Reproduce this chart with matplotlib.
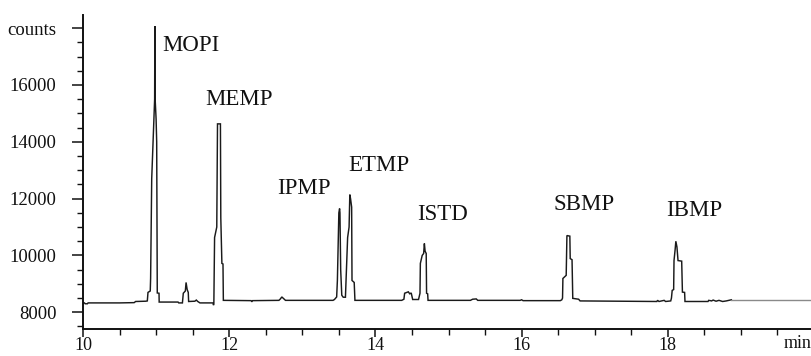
import matplotlib
matplotlib.use("Agg")
import matplotlib.pyplot as plt
from matplotlib.ticker import MultipleLocator, FixedLocator
import matplotlib.transforms as mtransforms

# Chromatogram trace (retention time in min, detector counts)
trace_time = [
    10.00, 10.02, 10.03, 10.06, 10.07, 10.50, 10.70, 10.72, 10.86, 10.88,
    10.889, 10.92, 10.925, 10.94, 10.97, 10.98, 10.983, 10.987, 11.00, 11.008,
    11.016, 11.040, 11.042, 11.30, 11.31, 11.36, 11.372, 11.40, 11.41, 11.425,
    11.44, 11.445, 11.53, 11.55, 11.57, 11.60, 11.78, 11.785, 11.79, 11.80,
    11.83, 11.84, 11.88, 11.885, 11.90, 11.915, 11.92, 12.30, 12.31, 12.32,
    12.68, 12.70, 12.72, 12.75, 12.77, 13.42, 13.44, 13.47, 13.48, 13.50,
    13.51, 13.515, 13.525, 13.54, 13.56, 13.59, 13.60, 13.62, 13.64, 13.65,
    13.66, 13.675, 13.68, 13.71, 13.72, 14.36, 14.39, 14.40, 14.43, 14.45,
    14.47, 14.49, 14.51, 14.59, 14.61, 14.615, 14.64, 14.66, 14.67, 14.68,
    14.695, 14.70, 14.715, 14.72, 15.30, 15.33, 15.38, 15.40, 15.98, 16.00,
    16.02, 16.53, 16.55, 16.56, 16.565, 16.61, 16.62, 16.66, 16.665, 16.69,
    16.70, 16.78, 16.80, 17.85, 17.86, 17.88, 17.95, 17.97, 18.04, 18.05,
    18.06, 18.08, 18.085, 18.10, 18.11, 18.125, 18.14, 18.19, 18.20, 18.23,
    18.235, 18.55, 18.56, 18.60, 18.62, 18.66, 18.70, 18.75, 18.80, 18.87,
]
trace_counts = [
    8330, 8330, 8300, 8300, 8330, 8330, 8340, 8380, 8390, 8400,
    8700, 8750, 9200, 12700, 14800, 15500, 18070, 15500, 14800, 14000,
    8680, 8670, 8360, 8360, 8330, 8330, 8670, 8750, 9050, 8800,
    8700, 8380, 8390, 8430, 8380, 8330, 8330, 8250, 8300, 10630,
    11000, 14630, 14630, 11330, 9720, 9700, 8420, 8410, 8370, 8410,
    8420, 8470, 8540, 8470, 8420, 8420, 8450, 8540, 9120, 11500,
    11650, 11500, 9500, 8600, 8530, 8530, 9200, 10630, 11000, 12140,
    12000, 11700, 9120, 9050, 8420, 8420, 8460, 8670, 8700, 8720,
    8650, 8680, 8450, 8450, 8670, 9720, 10000, 10070, 10420, 10150,
    10070, 8670, 8650, 8420, 8420, 8460, 8470, 8420, 8420, 8440,
    8410, 8410, 8440, 8500, 9190, 9300, 10700, 10680, 9890, 9850,
    8490, 8460, 8400, 8380, 8420, 8380, 8420, 8380, 8400, 8500,
    8770, 8800, 9820, 10200, 10500, 10300, 9820, 9800, 8710, 8700,
    8380, 8380, 8420, 8400, 8430, 8390, 8420, 8380, 8400, 8440,
]

# End of the recorded run
tail_time = [18.87, 19.98]
tail_counts = [8440, 8440]

# Compound names and where each name is written (time, counts at baseline of text)
peak_names = ["MOPI", "MEMP", "IPMP", "ETMP", "ISTD", "SBMP", "IBMP"]
name_time = [11.08, 11.67, 12.65, 13.625, 14.57, 16.43, 17.975]
name_counts = [17200, 15300, 12170, 12980, 11255, 11605, 11395]

x_ticks = [10, 12, 14, 16, 18]
x_tick_labels = ["10", "12", "14", "16", "18"]
y_ticks = [8000, 10000, 12000, 14000, 16000, 18000]
y_tick_labels = ["8000", "10000", "12000", "14000", "16000", "counts"]

serif = ["Liberation Serif", "DejaVu Serif"]
plt.rcParams["font.family"] = serif

W, H = 812, 356
fig = plt.figure(figsize=(W / 100, H / 100), dpi=100)
x0, x1, y_top, y_bot = 83, 812, 15, 329
ax = fig.add_axes([x0 / W, (H - y_bot) / H, (x1 - x0) / W, (y_bot - y_top) / H])

ax.plot(trace_time, trace_counts, color="#1a1a1a", lw=1.05, solid_joinstyle="miter")
ax.plot(tail_time, tail_counts, color="#8a8a8a", lw=1.0)

for name, t, c in zip(peak_names, name_time, name_counts):
    ax.text(t, c, name, fontsize=16.5, ha="left", va="baseline", color="#111111")

ax.set_xlim(10, 10 + (x1 - x0) / 73.1)
ax.set_ylim(7412, 18461)

for side in ("top", "right"):
    ax.spines[side].set_visible(False)
for side in ("left", "bottom"):
    ax.spines[side].set_linewidth(1.4)
    ax.spines[side].set_color("#111111")

ax.xaxis.set_major_locator(FixedLocator(x_ticks))
ax.set_xticklabels(x_tick_labels)
ax.xaxis.set_minor_locator(MultipleLocator(0.5))
ax.yaxis.set_major_locator(FixedLocator(y_ticks))
ax.set_yticklabels(y_tick_labels)
ax.yaxis.set_minor_locator(MultipleLocator(500))

ax.tick_params(axis="both", which="major", direction="out", length=8, width=1.1,
               labelsize=13.5, colors="#111111")
ax.tick_params(axis="both", which="minor", direction="out", length=4, width=1.0,
               colors="#111111")
ax.tick_params(axis="x", which="major", length=6, pad=0, labelsize=13)
ax.tick_params(axis="y", which="major", pad=11)

trans = mtransforms.blended_transform_factory(ax.transData, ax.transAxes)
ax.text(19.58, -0.02, "min", transform=trans, fontsize=13, ha="left", va="top",
        color="#111111", clip_on=False)

fig.savefig("out.png", dpi=100)
